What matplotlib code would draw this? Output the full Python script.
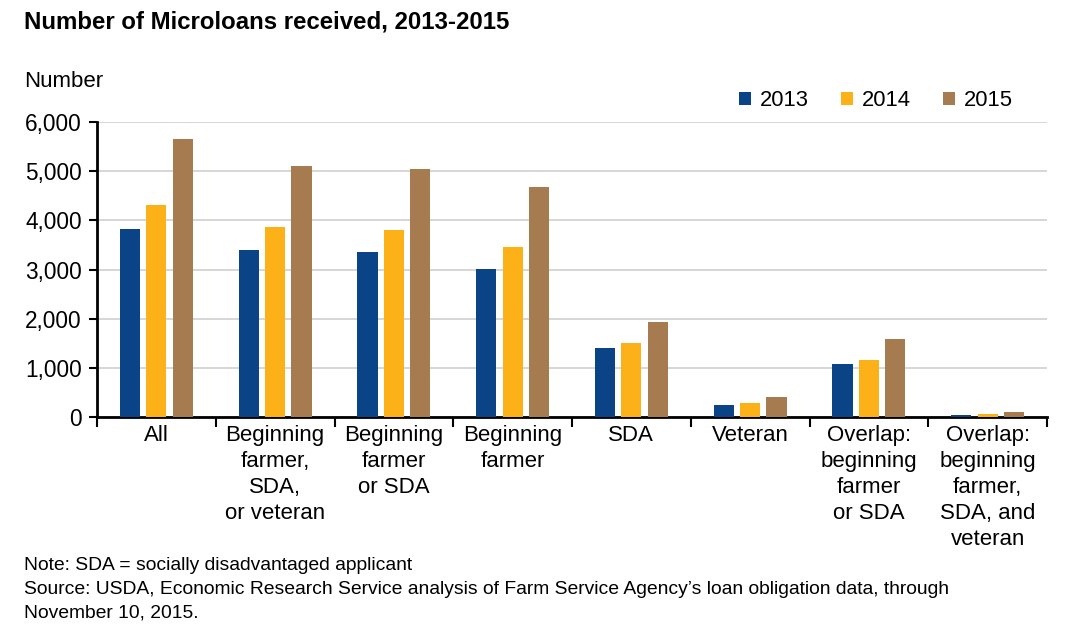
import matplotlib
matplotlib.use("Agg")
import matplotlib.pyplot as plt
from matplotlib.patches import Patch
import numpy as np

categories = ["All", "Beginning\nfarmer,\nSDA,\nor veteran", "Beginning\nfarmer\nor SDA",
              "Beginning\nfarmer", "SDA", "Veteran", "Overlap:\nbeginning\nfarmer\nor SDA",
              "Overlap:\nbeginning\nfarmer,\nSDA, and\nveteran"]
years = ["2013", "2014", "2015"]
v2013 = [3825, 3404, 3350, 3002, 1406, 252, 1074, 41]
v2014 = [4315, 3860, 3799, 3458, 1496, 293, 1155, 61]
v2015 = [5660, 5115, 5042, 4687, 1936, 414, 1590, 110]
yticks = [0, 1000, 2000, 3000, 4000, 5000, 6000]
ytick_labels = ["0", "1,000", "2,000", "3,000", "4,000", "5,000", "6,000"]

colors = ["#0B4387", "#FBB117", "#A67B4F"]

plt.rcParams["font.family"] = ["Liberation Sans", "DejaVu Sans"]

fig = plt.figure(figsize=(10.8, 6.41), dpi=100)
ax = fig.add_axes([97/1080, 1-417/641, (1047-97)/1080, (417-122)/641])

x = np.arange(len(categories))
w = 0.17
step = 0.222
for i, (vals, c, yr) in enumerate(zip([v2013, v2014, v2015], colors, years)):
    ax.bar(x + (i-1)*step, vals, width=w, color=c, zorder=3, label=yr)

ax.set_xlim(-0.5, len(categories)-0.5)
ax.set_ylim(0, 6000)
ax.set_yticks(yticks)
ax.set_yticklabels(ytick_labels, fontsize=16.3)
ax.yaxis.grid(True, color="#d3d3d3", linewidth=1.3, zorder=0)
ax.set_axisbelow(True)

ax.set_xticks(x)
ax.set_xticklabels(categories, fontsize=16, linespacing=1.3)
ax.set_xticks(np.arange(-0.5, len(categories), 1.0), minor=True)
ax.tick_params(axis="x", which="major", length=0, pad=6)
ax.tick_params(axis="x", which="minor", length=7, width=1.5, direction="out", color="black")
ax.tick_params(axis="y", length=6, width=1.5, pad=5, color="black")

for s in ["top", "right"]:
    ax.spines[s].set_visible(False)
ax.spines["left"].set_linewidth(2)
ax.spines["bottom"].set_linewidth(2)

handles = [Patch(facecolor=c, edgecolor="none") for c in colors]
fig.legend(handles, years, loc="center left", bbox_to_anchor=(739/1080, 1-101/641),
           ncol=3, frameon=False, fontsize=15.8, handlelength=0.56, handleheight=0.56,
           handletextpad=0.4, columnspacing=1.45, borderpad=0, borderaxespad=0)

fig.text(24/1080, 1-29/641, "Number of Microloans received, 2013-2015", fontsize=17.3,
         fontweight="bold", va="baseline", ha="left")
fig.text(24/1080, 1-87/641, "Number", fontsize=16, va="baseline", ha="left")

notes = ["Note: SDA = socially disadvantaged applicant",
         "Source: USDA, Economic Research Service analysis of Farm Service Agency\u2019s loan obligation data, through",
         "November 10, 2015."]
for t, yb in zip(notes, [570, 594, 617]):
    fig.text(24/1080, 1-yb/641, t, fontsize=13.85, va="baseline", ha="left")

fig.savefig("out.png", dpi=100)
